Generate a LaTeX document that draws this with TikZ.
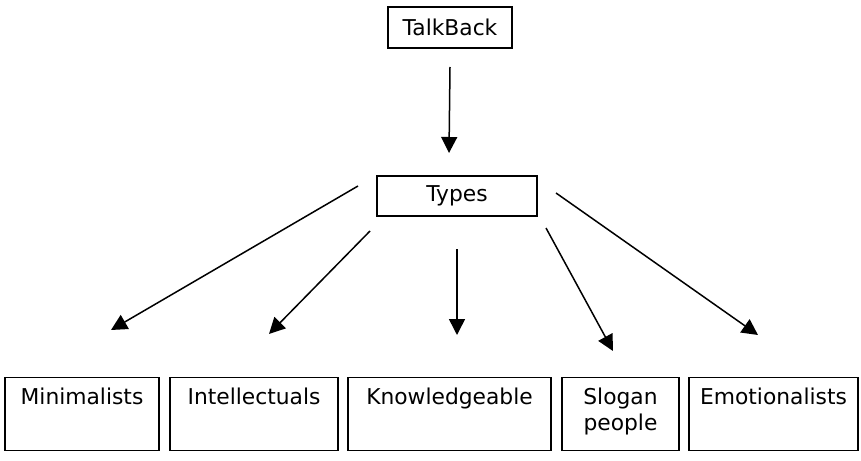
\documentclass[tikz,border=0pt]{standalone}
\usepackage{fontspec}
\setmainfont{DejaVu Sans}
\usepackage{tikz}
\usetikzlibrary{arrows.meta, positioning}
\tikzstyle{topbox} = [rectangle, draw=black, line width=0.65pt, inner sep=0pt, text centered, font=\fontsize{10.9}{13}\selectfont]
\tikzstyle{kind} = [rectangle, draw=black, line width=0.65pt, anchor=north, align=center, inner xsep=2pt, inner ysep=5.5pt, text height=8pt, text depth=17.5pt, minimum height=36.5pt, font=\fontsize{10.9}{13}\selectfont]
\tikzstyle{arrow} = [line width=0.75pt, -{Triangle[length=8pt, width=8pt]}]

\begin{document}
\begin{tikzpicture}[x=0.5pt, y=-0.5pt]
\useasboundingbox (0,0) rectangle (861,460);

% Root
\node (talkback) [topbox, minimum width=62pt, minimum height=20.5pt] at (450,27.5) {TalkBack};
\node (types) [topbox, minimum width=80pt, minimum height=20pt] at (457,196) {Types};

% Kinds of callers
\node (mini) [kind, minimum width=77pt] at (82,377) {Minimalists};
\node (intel) [kind, minimum width=84pt] at (254,377) {Intellectuals};
\node (know) [kind, minimum width=101.5pt] at (449.5,377) {Knowledgeable};
\node (slogan) [kind, minimum width=58.5pt, text height=21pt, text depth=4.5pt] at (620.5,377) {Slogan\\people};
\node (emot) [kind, minimum width=84.5pt] at (773.5,377) {Emotionalists};

% Arrow ends
\coordinate (tbout) at (450,67);
\coordinate (tyin) at (449,153);
\coordinate (ty1) at (358,186);
\coordinate (ty2) at (370,231);
\coordinate (ty3) at (457,249);
\coordinate (ty4) at (546,228);
\coordinate (ty5) at (556,193);
\coordinate (miniin) at (111,330);
\coordinate (intelin) at (269,334);
\coordinate (knowin) at (457,335);
\coordinate (sloganin) at (613,351);
\coordinate (emotin) at (758,335);

% Arrows
\draw [arrow] (tbout) -- (tyin);
\draw [arrow] (ty1) -- (miniin);
\draw [arrow] (ty2) -- (intelin);
\draw [arrow] (ty3) -- (knowin);
\draw [arrow] (ty4) -- (sloganin);
\draw [arrow] (ty5) -- (emotin);

\end{tikzpicture}
\end{document}
